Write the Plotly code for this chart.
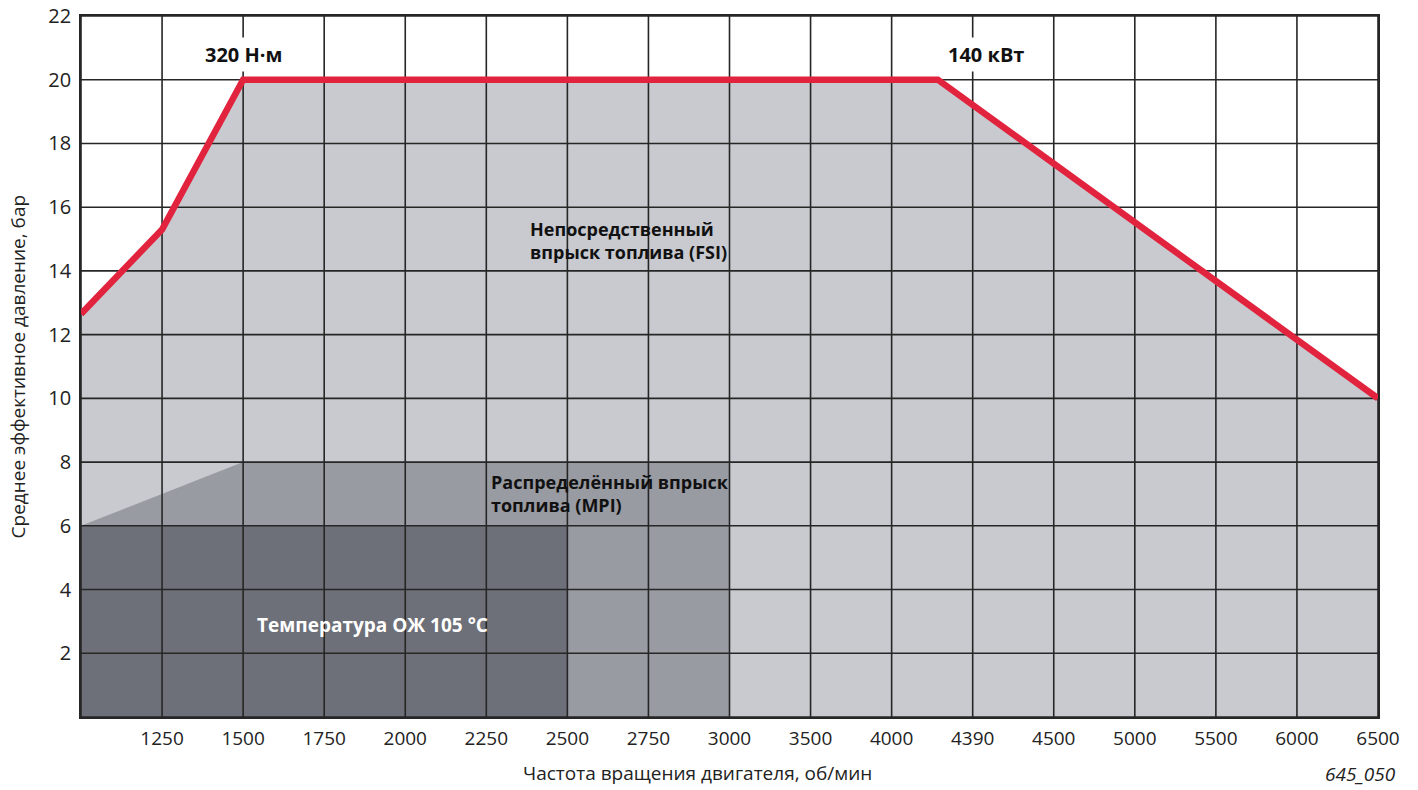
import plotly.graph_objects as go

# ---- data ----
x_tick_labels = ["", "1250", "1500", "1750", "2000", "2250", "2500", "2750", "3000",
                 "3500", "4000", "4390", "4500", "5000", "5500", "6000", "6500"]
x_grid = list(range(len(x_tick_labels)))          # equally spaced grid columns
y_ticks = [2, 4, 6, 8, 10, 12, 14, 16, 18, 20, 22]
y_grid = [0] + y_ticks

# full-load curve (grid-column position, bar)
torque_x = [0, 1, 2, 10.57, 16]
torque_y = [12.65, 15.3, 20.0, 20.0, 10.0]

# MPI region (up to 3000 rpm = column 8)
mpi_x = [0, 0, 2, 8, 8]
mpi_y = [0, 6, 8, 8, 0]

# coolant temperature 105 °C region (up to 2500 rpm = column 6)
cool_x = [0, 0, 6, 6]
cool_y = [0, 6, 6, 0]

RED = "#e2233d"
LIGHT = "#c8cacf"
MID = "#989ba2"
DARK = "#6d7078"
GRID = "#262626"
FONT = "Open Sans"

fig = go.Figure()

# FSI area under the full-load curve
fig.add_trace(go.Scatter(
    x=torque_x + [torque_x[-1], torque_x[0]],
    y=torque_y + [0, 0],
    fill="toself", fillcolor=LIGHT, mode="none", hoverinfo="skip", showlegend=False))

fig.add_trace(go.Scatter(x=mpi_x, y=mpi_y, fill="toself", fillcolor=MID,
                         mode="none", hoverinfo="skip", showlegend=False))
fig.add_trace(go.Scatter(x=cool_x, y=cool_y, fill="toself", fillcolor=DARK,
                         mode="none", hoverinfo="skip", showlegend=False))

# grid lines drawn above the fills
gx, gy = [], []
for xv in x_grid:
    gx += [xv, xv, None]
    gy += [y_grid[0], y_grid[-1], None]
for yv in y_grid:
    gx += [x_grid[0], x_grid[-1], None]
    gy += [yv, yv, None]
fig.add_trace(go.Scatter(x=gx, y=gy, mode="lines",
                         line=dict(color=GRID, width=1.6),
                         hoverinfo="skip", showlegend=False))

# full-load curve
fig.add_trace(go.Scatter(x=torque_x, y=torque_y, mode="lines",
                         line=dict(color=RED, width=6.5),
                         hoverinfo="skip", showlegend=False))

fig.update_layout(
    width=1418, height=790,
    margin=dict(l=81, r=40, t=16, b=73),
    paper_bgcolor="white", plot_bgcolor="white",
    font=dict(family=FONT, size=16, color="#222222"),
    showlegend=False,
    xaxis=dict(range=[0, 16], tickmode="array", tickvals=x_grid, ticktext=x_tick_labels,
               showgrid=False, zeroline=False, showline=True, mirror=True,
               linecolor=GRID, linewidth=1.6, layer="above traces", automargin=False,
               ticks="", ticklabelstandoff=3, tickfont=dict(size=19)),
    yaxis=dict(range=[0, 22], tickmode="array", tickvals=y_ticks,
               showgrid=False, zeroline=False, showline=True, mirror=True,
               linecolor=GRID, linewidth=1.6, layer="above traces", automargin=False,
               ticks="", ticklabelstandoff=4, tickfont=dict(size=20)),
)

# axis titles
fig.add_annotation(xref="paper", yref="paper", x=0.475, y=-0.08, yanchor="middle",
                   text="Частота вращения двигателя, об/мин", showarrow=False,
                   font=dict(family=FONT, size=19, color="#222222"))
fig.add_annotation(xref="paper", yref="paper", x=-0.0486, y=0.5, textangle=-90,
                   xanchor="center", yanchor="middle",
                   text="Среднее эффективное давление, бар", showarrow=False,
                   font=dict(family=FONT, size=19, color="#222222"))

bold = dict(family=FONT, size=18, color="#111111")
fig.add_annotation(x=2.01, y=20.78, text="<b>320 Н·м</b>", showarrow=False,
                   font=dict(family=FONT, size=20, color="#111111"),
                   bgcolor="white", borderpad=3)
fig.add_annotation(x=11.17, y=20.78, text="<b>140 кВт</b>", showarrow=False,
                   font=dict(family=FONT, size=20, color="#111111"),
                   bgcolor="white", borderpad=3)
fig.add_annotation(x=5.52, y=14.97, text="<b>Непосредственный<br>впрыск топлива (FSI)</b>",
                   showarrow=False, xanchor="left", align="left", font=bold)
fig.add_annotation(x=5.03, y=7.0, text="<b>Распределённый впрыск<br>топлива (MPI)</b>",
                   showarrow=False, xanchor="left", align="left", font=bold)
fig.add_annotation(x=2.15, y=2.89, text="<b>Температура ОЖ 105 °C</b>",
                   showarrow=False, xanchor="left", align="left",
                   font=dict(family=FONT, size=19, color="white"))
fig.add_annotation(xref="paper", yref="paper", x=1.0154, y=-0.082, xanchor="right",
                   yanchor="middle", text="<i>645_050</i>", showarrow=False,
                   font=dict(family=FONT, size=19, color="#222222"))

fig.write_html("out.html", config={"displayModeBar": False},
               post_script="document.body.style.margin='0';document.body.style.overflow='hidden';")
